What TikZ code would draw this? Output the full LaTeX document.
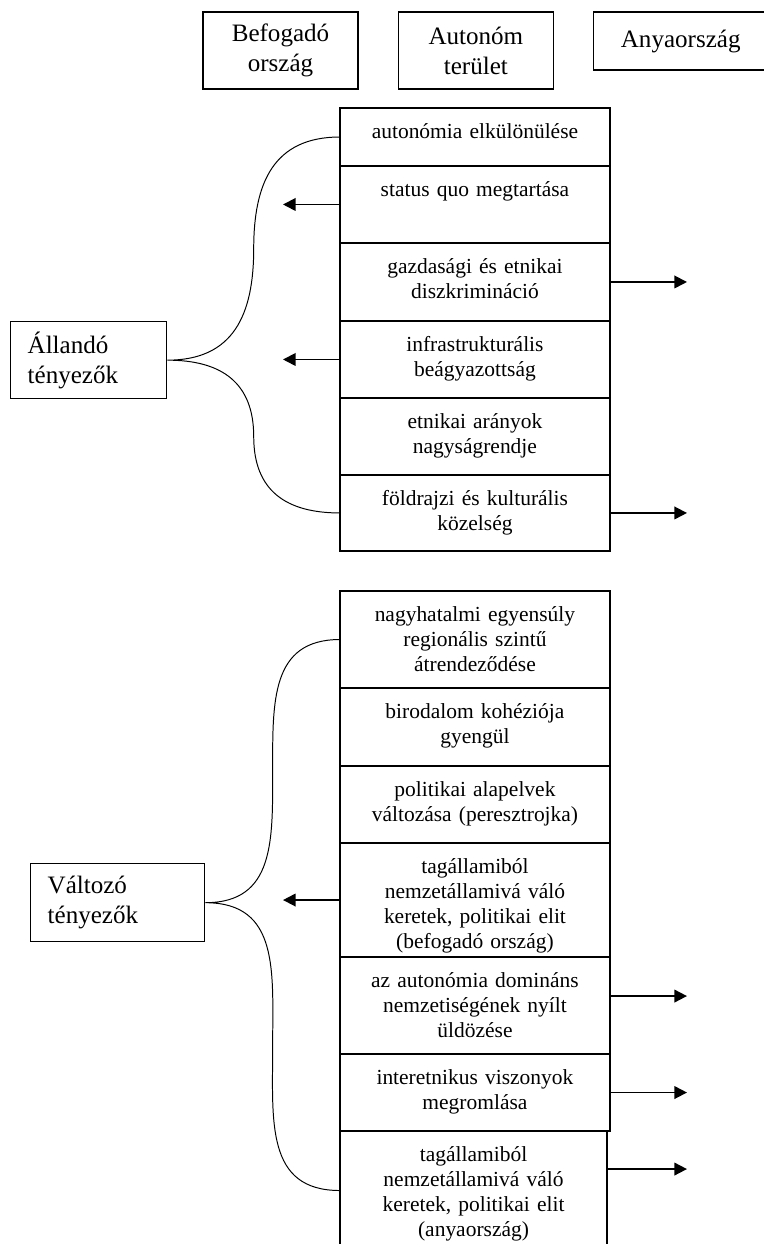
\documentclass[tikz,border=0pt]{standalone}
\usepackage{fontspec}
\setmainfont{Liberation Serif}
\usetikzlibrary{positioning,calc,arrows.meta}

\begin{document}
\begin{tikzpicture}[x=0.5587pt,y=0.5587pt,>={Triangle[length=7pt,width=7pt]},
	head/.style={draw,line width=0.75pt,align=center,minimum width=86.6pt,minimum height=43pt,inner sep=0pt,font=\fontsize{14}{16.8}\selectfont},
	factor/.style={draw,line width=0.75pt,align=left,anchor=north west,inner xsep=9.5pt,inner ysep=0pt,font=\fontsize{14}{16.8}\selectfont},
	rowbox/.style={draw,line width=0.75pt,outer sep=0pt,text width=146.8pt,align=center,inner xsep=2pt,inner ysep=0pt,text height=16.8pt,text depth=#1-16.8pt,font=\fontsize{12}{14}\selectfont},
	brace/.style={line width=0.55pt,looseness=1.2},
	push/.style={line width=1pt,every edge/.style={draw,->}}]
	\useasboundingbox (0,0) rectangle (763,-1244);

	% top labels
	\node[head] (befogado) at (280.5,-50.5) {Befogadó\\ország};
	\node[head] (autonom) [right=21.8pt of befogado] {Autonóm\\terület};
	\node[head,minimum width=97.2pt,minimum height=32.4pt] (anya) [right=21.8pt of autonom.north east,anchor=north west] {Anyaország};

	\coordinate (befx) at (283,0);
	\coordinate (anyax) at (687,0);

	% allando tenyezok
	\node[factor,text width=68.2pt,minimum height=43pt] (allando) at (10,-321) {Állandó\\ tényezők};
	\node[rowbox=32.4pt,anchor=north west] (a1) at (340,-108) {autonómia elkülönülése};
	\node[rowbox=43pt] (a2) [below=0pt of a1] {status quo megtartása};
	\node[rowbox=43.6pt] (a3) [below=0pt of a2] {gazdasági és etnikai\\ diszkrimináció};
	\node[rowbox=43pt] (a4) [below=0pt of a3] {infrastrukturális\\ beágyazottság};
	\node[rowbox=43pt] (a5) [below=0pt of a4] {etnikai arányok\\ nagyságrendje};
	\node[rowbox=42.5pt] (a6) [below=0pt of a5] {földrajzi és kulturális\\ közelség};

	% valtozo tenyezok
	\node[factor,text width=78.2pt,minimum height=43.6pt] (valtozo) at (30,-863) {Változó\\ tényezők};
	\node[rowbox=54.2pt,anchor=north west] (b1) at (340,-591) {nagyhatalmi egyensúly\\ regionális szintű\\ átrendeződése};
	\node[rowbox=43.6pt] (b2) [below=0pt of b1] {birodalom kohéziója\\ gyengül};
	\node[rowbox=43pt] (b3) [below=0pt of b2] {politikai alapelvek\\ változása (peresztrojka)};
	\node[rowbox=63.7pt] (b4) [below=0pt of b3] {tagállamiból\\ nemzetállamivá váló\\ keretek, politikai elit\\ (befogadó ország)};
	\node[rowbox=54.2pt] (b5) [below=0pt of b4] {az autonómia domináns\\ nemzetiségének nyílt\\ üldözése};
	\node[rowbox=43pt] (b6) [below=0pt of b5] {interetnikus viszonyok\\ megromlása};
	\node[rowbox=66.5pt,text width=145.2pt] (b7) [below=0pt of b6.south west,anchor=north west] {tagállamiból\\ nemzetállamivá váló\\ keretek, politikai elit\\ (anyaország)};

	% braces
	\draw[brace] (allando.east) to[out=0,in=-90] ($(allando.east)!.5!(a1.west)$) to[out=90,in=180] (a1.west)
		(allando.east) to[out=0,in=90] ($(allando.east)!.5!(a6.west)$) to[out=-90,in=180] (a6.west);
	\draw[brace] (valtozo.east) to[out=0,in=-90] ($(valtozo.east)!.5!(b1.west)$) to[out=90,in=180] (b1.west)
		(valtozo.east) to[out=0,in=90] ($(valtozo.east)!.5!(b7.west)$) to[out=-90,in=180] (b7.west);

	% arrows
	\draw[push] (a2.west) edge (a2.west -| befx)
		(a4.west) edge (a4.west -| befx)
		(b4.west) edge (b4.west -| befx)
		(a3.east) edge (a3.east -| anyax)
		(a6.east) edge (a6.east -| anyax)
		([yshift=5.3pt]b5.east) edge ([yshift=5.3pt]b5.east -| anyax)
		(b6.east) edge (b6.east -| anyax)
		([yshift=12pt]b7.east) edge ([yshift=12pt]b7.east -| anyax);
\end{tikzpicture}
\end{document}
